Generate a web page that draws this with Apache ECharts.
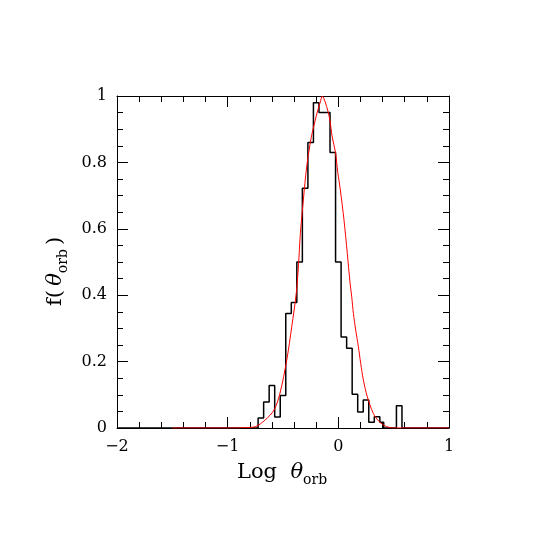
<!DOCTYPE html>
<html><head><meta charset="utf-8">
<script src="https://cdn.jsdelivr.net/npm/echarts@6/dist/echarts.min.js"></script>
<style>html,body{margin:0;padding:0;background:#fff}#c{width:545px;height:545px}</style>
</head><body><div id="c"></div>
<script>
// Histogram: left bin edges and heights (last edge closes the last bin)
const binEdges = [-0.725,-0.675,-0.625,-0.575,-0.525,-0.475,-0.425,-0.375,-0.325,-0.275,-0.225,-0.175,-0.125,-0.075,-0.025,0.025,0.075,0.125,0.175,0.225,0.275,0.325,0.375,0.41,0.525,0.575];
const binValues = [0.03,0.078,0.128,0.033,0.098,0.345,0.378,0.5,0.722,0.86,0.98,0.95,0.95,0.83,0.5,0.274,0.24,0.102,0.048,0.084,0.017,0.034,0.017,0,0.067];
// Red model curve
const curveX = [-1.5,-1.0,-0.85,-0.75,-0.662,-0.581,-0.527,-0.466,-0.421,-0.38,-0.36,-0.343,-0.316,-0.286,-0.245,-0.21,-0.19,-0.163,-0.145,-0.12,-0.093,-0.075,-0.057,-0.025,-0.005,0.017,0.051,0.081,0.105,0.121,0.136,0.157,0.181,0.202,0.226,0.262,0.316,0.37,0.437,0.51,1.0];
const curveY = [0,0,0.001,0.004,0.024,0.054,0.105,0.205,0.305,0.406,0.49,0.586,0.687,0.787,0.875,0.925,0.952,0.982,1.0,0.983,0.953,0.925,0.88,0.828,0.77,0.72,0.627,0.526,0.44,0.395,0.345,0.295,0.245,0.195,0.145,0.094,0.044,0.019,0.004,0,0];
const xTicks = [-2,-1,0,1];
const yTicks = [0,0.2,0.4,0.6,0.8,1];

const histData = [[-2,0]];
for (let i=0;i<binValues.length;i++) histData.push([binEdges[i], binValues[i]]);
histData.push([binEdges[binEdges.length-1], 0]);
histData.push([1, 0]);
const curveData = curveX.map((x,i)=>[x, curveY[i]]);

const FONT = 'DejaVu Serif';
const fmtX = v => (v<0 ? '\u2212'+Math.abs(v) : String(v));
const fmtY = v => (v===0 ? '0' : v===1 ? '1' : v.toFixed(1));
const tickCommon = {inside:true, length:11, lineStyle:{color:'#000', width:1}};
const minorCommon = {show:true, length:6, lineStyle:{color:'#000', width:1}};
const titleRich = {
  t:{fontFamily:FONT, fontStyle:'italic', fontSize:21, lineHeight:28},
  s:{fontFamily:FONT, fontSize:14, verticalAlign:'bottom', lineHeight:28}
};

const chart = echarts.init(document.getElementById('c'), null, {renderer:'canvas'});
chart.setOption({
  backgroundColor:'#fff',
  animation:false,
  grid:{left:117, top:96, width:332, height:332},
  xAxis:[
    {type:'value', min:xTicks[0], max:xTicks[xTicks.length-1], interval:1, position:'bottom',
     axisLine:{show:true, onZero:false, lineStyle:{color:'#000', width:1}},
     axisTick:tickCommon, minorTick:Object.assign({splitNumber:5}, minorCommon),
     splitLine:{show:false}, minorSplitLine:{show:false},
     axisLabel:{formatter:fmtX, color:'#000', fontFamily:FONT, fontSize:16, margin:11}},
    {type:'value', min:xTicks[0], max:xTicks[xTicks.length-1], interval:1, position:'top',
     axisLine:{show:true, onZero:false, lineStyle:{color:'#000', width:1}},
     axisTick:tickCommon, minorTick:Object.assign({splitNumber:5}, minorCommon),
     splitLine:{show:false}, axisLabel:{show:false}}
  ],
  yAxis:[
    {type:'value', min:yTicks[0], max:yTicks[yTicks.length-1], interval:0.2, position:'left',
     axisLine:{show:true, onZero:false, lineStyle:{color:'#000', width:1}},
     axisTick:tickCommon, minorTick:Object.assign({splitNumber:4}, minorCommon),
     splitLine:{show:false},
     axisLabel:{formatter:fmtY, color:'#000', fontFamily:FONT, fontSize:16, margin:10}},
    {type:'value', min:yTicks[0], max:yTicks[yTicks.length-1], interval:0.2, position:'right',
     axisLine:{show:true, onZero:false, lineStyle:{color:'#000', width:1}},
     axisTick:tickCommon, minorTick:Object.assign({splitNumber:4}, minorCommon),
     splitLine:{show:false}, axisLabel:{show:false}}
  ],
  series:[
    {type:'line', data:histData, step:'end', showSymbol:false, symbol:'none',
     lineStyle:{color:'#000', width:1.5}, z:2},
    {type:'line', data:curveData, smooth:0.3, showSymbol:false, symbol:'none',
     lineStyle:{color:'#ff0000', width:1}, z:3}
  ],
  graphic:[
    {type:'text', x:237, y:459, style:{
      text:'Log  {t|\u03b8}{s|orb}', fontFamily:FONT, fontSize:21, fill:'#000', rich:titleRich}},
    {type:'text', x:42, y:306, rotation:Math.PI/2, style:{
      text:'f(\u2009{t|\u03b8}{s|orb}\u2009)', fontFamily:FONT, fontSize:21, fill:'#000', rich:titleRich}}
  ]
});
</script></body></html>
